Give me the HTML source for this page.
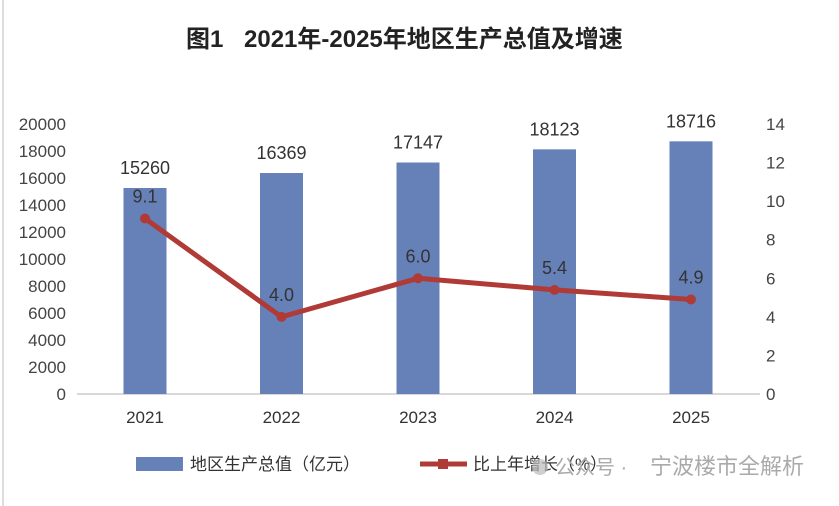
<!DOCTYPE html>
<html><head><meta charset="utf-8"><style>
body{margin:0;background:#fff;width:839px;height:506px;overflow:hidden}
svg{display:block;font-family:"Liberation Sans","Noto Sans CJK SC",sans-serif}
</style></head><body>
<svg width="839" height="506" viewBox="0 0 839 506">
<rect x="2" y="0" width="2" height="506" fill="#ddd"/>
<text x="186" y="47" font-size="24" font-weight="bold" fill="#222">图1<tspan x="244">2021年-2025年地区生产总值及增速</tspan></text>
<g id="g"></g>
<g>
<rect x="136" y="457" width="47" height="14" fill="#6681b8"/>
<text x="190" y="470" font-size="17" fill="#333">地区生产总值（亿元）</text>
<line x1="420" y1="464" x2="467" y2="464" stroke="#b03a36" stroke-width="5"/>
<rect x="438" y="459" width="10" height="10" fill="#b03a36"/>
<text x="473" y="470" font-size="17" fill="#333">比上年增长（%）</text>
<circle cx="540" cy="467" r="8" fill="#bbb" opacity="0.7"/>
<text x="555" y="474" font-size="20" fill="#aaa">公众号 ·</text>
<text x="650" y="474" font-size="22" fill="#aaa">宁波楼市全解析</text>
</g>
</svg>
<script>
const categories=["2021","2022","2023","2024","2025"];
const gdp=[15260,16369,17147,18123,18716];
const growth=[9.1,4.0,6.0,5.4,4.9];
const leftTicks=[0,2000,4000,6000,8000,10000,12000,14000,16000,18000,20000];
const rightTicks=[0,2,4,6,8,10,12,14];
const NS="http://www.w3.org/2000/svg";
const g=document.getElementById('g');
const y0=394,y1=124;
const yL=v=>y0-(v/20000)*(y0-y1);
const yR=v=>y0-(v/14)*(y0-y1);
const xC=i=>145+i*136.5;
function mk(t,a,txt){const e=document.createElementNS(NS,t);for(const k in a)e.setAttribute(k,a[k]);if(txt!==undefined)e.textContent=txt;g.appendChild(e);return e;}
leftTicks.forEach(v=>{const e=mk('text',{x:66,y:yL(v)+6,'text-anchor':'end','font-size':17,fill:'#444'},v);

});
rightTicks.forEach(v=>{const e=mk('text',{x:766,y:yR(v)+6,'font-size':17,fill:'#444'},v);

});
const ax=mk('line',{x1:77,y1:y0,x2:760,y2:y0,stroke:'#ccc','stroke-width':1.5});


categories.forEach((c,i)=>{
const b=mk('rect',{x:xC(i)-21.5,y:yL(gdp[i]),width:43,height:y0-yL(gdp[i]),fill:'#6681b8'});


const l=mk('text',{x:xC(i),y:yL(gdp[i])-14,'text-anchor':'middle','font-size':18,fill:'#333'},gdp[i]);


const t=mk('text',{x:xC(i),y:423,'text-anchor':'middle','font-size':17,fill:'#333'},c);


});
const pl=mk('polyline',{points:growth.map((v,i)=>xC(i)+','+yR(v)).join(' '),fill:'none',stroke:'#b03a36','stroke-width':5,'stroke-linejoin':'round'});


growth.forEach((v,i)=>{
const p=mk('circle',{cx:xC(i),cy:yR(v),r:5,fill:'#b03a36'});


const l=mk('text',{x:xC(i),y:yR(v)-16,'text-anchor':'middle','font-size':18,fill:'#333'},v.toFixed(1));


});
</script>
</body></html>
